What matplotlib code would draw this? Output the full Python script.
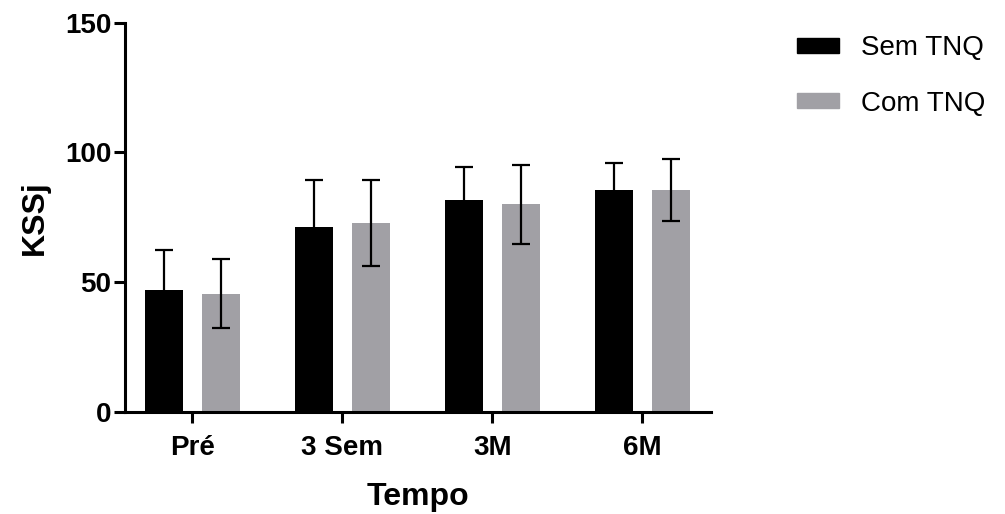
import numpy as np
import matplotlib
matplotlib.use('Agg')
import matplotlib.pyplot as plt
from matplotlib.patches import Patch

plt.rcParams['font.family'] = ['Liberation Sans', 'DejaVu Sans']

categorias = ['Pré', '3 Sem', '3M', '6M']
series = ['Sem TNQ', 'Com TNQ']
sem_tnq = [46.8, 71.3, 81.5, 85.3]
sem_tnq_dp = [15.4, 18.0, 12.9, 10.5]
com_tnq = [45.5, 72.9, 79.9, 85.5]
com_tnq_dp = [13.4, 16.6, 15.2, 12.1]

cores = ['#000000', '#a1a0a5']

fig = plt.figure(figsize=(10.05, 5.14), dpi=100)
ax = fig.add_axes([0.1244, 0.199, 0.5828, 0.757])

x = np.arange(len(categorias))
w = 0.25
d = 0.19
for i, (v, e) in enumerate([(sem_tnq, sem_tnq_dp), (com_tnq, com_tnq_dp)]):
    pos = x - d if i == 0 else x + d
    ax.bar(pos, v, width=w, color=cores[i], zorder=2)
    ax.errorbar(pos, v, yerr=e, fmt='none', ecolor='black', elinewidth=1.6,
                capsize=6.5, capthick=1.6, zorder=3)

ax.set_xlim(-0.449, 3.456)
ax.set_ylim(0, 150)
ax.set_yticks([0, 50, 100, 150])
ax.set_xticks(x)
ax.set_xticklabels(categorias)
for s in ['top', 'right']:
    ax.spines[s].set_visible(False)
for s in ['left', 'bottom']:
    ax.spines[s].set_linewidth(2.2)
ax.tick_params(axis='both', width=2.2, length=8, labelsize=20)
ax.tick_params(axis='x', pad=9)
ax.tick_params(axis='y', pad=2)
for t in ax.get_xticklabels() + ax.get_yticklabels():
    t.set_fontweight('bold')
ax.set_xlabel('Tempo', fontsize=23, fontweight='bold', labelpad=15)
ax.set_ylabel('KSSj', fontsize=23, fontweight='bold', labelpad=11)

handles = [Patch(color=c, label=s) for c, s in zip(cores, series)]
fig.legend(handles=handles, loc='upper left', bbox_to_anchor=(0.793, 0.931),
           frameon=False, fontsize=20, handlelength=1.5, handleheight=0.45,
           handletextpad=0.8, labelspacing=1.05, borderpad=0, borderaxespad=0)

fig.savefig('out.png', dpi=100)
